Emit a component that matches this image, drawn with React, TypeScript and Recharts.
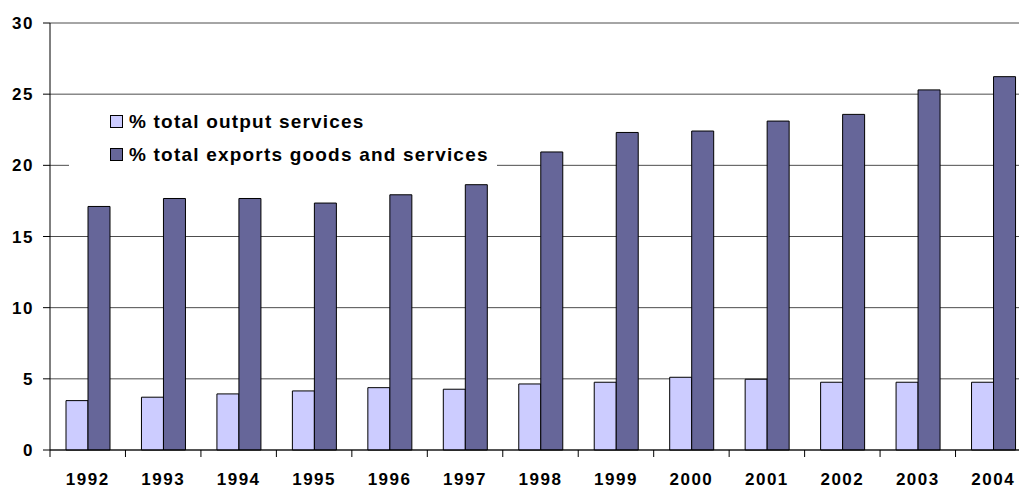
import { BarChart, Bar, XAxis, YAxis, CartesianGrid, Legend } from 'recharts'

const YEARS = ['1992', '1993', '1994', '1995', '1996', '1997', '1998', '1999', '2000', '2001', '2002', '2003', '2004']
const OUTPUT_SHARE = [3.47, 3.71, 3.94, 4.15, 4.38, 4.27, 4.64, 4.76, 5.11, 4.97, 4.76, 4.76, 4.76]
const EXPORTS_SHARE = [17.11, 17.67, 17.67, 17.35, 17.93, 18.64, 20.94, 22.31, 22.41, 23.11, 23.58, 25.3, 26.23]
const Y_TICKS = [0, 5, 10, 15, 20, 25, 30]

const SERIES = [
  { key: 'output', label: '% total output services', color: '#CCCCFF' },
  { key: 'exports', label: '% total exports goods and services', color: '#666699' },
]

const FONT = 'Arial, "Liberation Sans", sans-serif'

const data = YEARS.map((year, i) => ({
  year,
  output: OUTPUT_SHARE[i],
  exports: EXPORTS_SHARE[i],
}))

// tick marks sit on the category boundaries, label in the middle
function YearTick(props: any) {
  const { x, y, payload } = props
  const half = payload?.offset || 37.7
  return (
    <g>
      <line x1={x - half} x2={x - half} y1={y} y2={y + 7} stroke="#000" />
      <text
        x={x}
        y={y + 35}
        textAnchor="middle"
        fontFamily={FONT}
        fontWeight="bold"
        fontSize={17}
        letterSpacing={1.5}
        fill="#000"
      >
        {payload.value}
      </text>
    </g>
  )
}

function LegendBox() {
  return (
    <div style={{ background: '#fff', width: 428, height: 72, paddingLeft: 41, paddingTop: 9, boxSizing: 'border-box' }}>
      {SERIES.map(s => (
        <div
          key={s.key}
          style={{
            display: 'flex',
            alignItems: 'center',
            height: 33,
            fontFamily: FONT,
            fontWeight: 'bold',
            fontSize: 19,
            letterSpacing: 1.2,
            color: '#000',
            whiteSpace: 'nowrap',
          }}
        >
          <span
            style={{
              display: 'inline-block',
              width: 11,
              height: 11,
              background: s.color,
              border: '1px solid #000',
              marginRight: 6,
            }}
          />
          {s.label}
        </div>
      ))}
    </div>
  )
}

export default function App() {
  return (
    <div
      style={{
        position: 'fixed',
        left: 0,
        top: 0,
        width: 1019,
        height: 486,
        overflow: 'hidden',
        background: '#fff',
      }}
    >
      <BarChart
        width={1035}
        height={486}
        data={data}
        margin={{ top: 23, right: 4, bottom: 0, left: 0 }}
        barGap={0}
        barSize={22}
      >
        <CartesianGrid vertical={false} stroke="#4d4d4d" />
        <XAxis
          dataKey="year"
          height={36}
          axisLine={{ stroke: '#000' }}
          tickLine={false}
          tickSize={0}
          tickMargin={0}
          tick={<YearTick />}
          interval={0}
        />
        <YAxis
          width={50}
          domain={[0, 30]}
          ticks={Y_TICKS}
          interval={0}
          axisLine={{ stroke: '#000' }}
          tickLine={{ stroke: '#000' }}
          tickSize={7}
          tickMargin={9}
          tick={{ fontFamily: FONT, fontWeight: 'bold', fontSize: 17, fill: '#000', letterSpacing: 1.5 }}
        />
        <Legend
          layout="horizontal"
          align="center"
          verticalAlign="middle"
          content={<LegendBox />}
          wrapperStyle={{ left: 69, top: 96, width: 428, height: 72 }}
        />
        {SERIES.map(s => (
          <Bar
            key={s.key}
            dataKey={s.key}
            name={s.label}
            fill={s.color}
            stroke="#000"
            strokeWidth={1}
            isAnimationActive={false}
          />
        ))}
      </BarChart>
    </div>
  )
}
